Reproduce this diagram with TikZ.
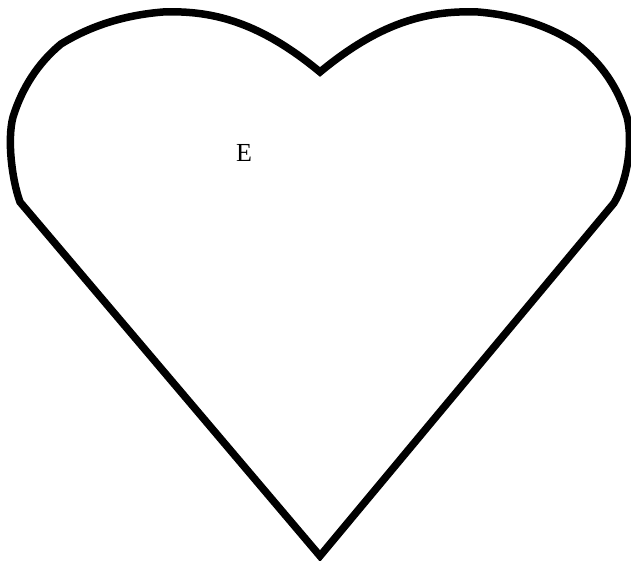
\documentclass[tikz,border=0pt]{standalone}
\usepackage{fontspec}
\setmainfont{Liberation Serif}
\begin{document}
\begin{tikzpicture}[x=1pt, y=-1pt,
    heart/.style={draw=black, line width=7.5pt},
    letter/.style={inner sep=0pt, font=\fontsize{26}{30}\selectfont}]
    \useasboundingbox (0,0) rectangle (631,561);
    % Outline of the heart: left lobe, dip, right lobe, tip
    \draw[heart] (320,556) -- (20,202)
        .. controls (12,180) and (7,140) .. (13,117)
        .. controls (22,88) and (38,63) .. (61,44)
        .. controls (92,25) and (126,15) .. (163,12)
        .. controls (215,10) and (262,24) .. (320,72)
        .. controls (378,24) and (425,10) .. (478,12)
        .. controls (514,15) and (548,25) .. (578,45)
        .. controls (602,64) and (618,88) .. (627,117)
        .. controls (633,140) and (628,180) .. (614,203)
        -- cycle;

    % Label
    \node[letter] (lbl) at (244,152.5) {E};
\end{tikzpicture}
\end{document}
